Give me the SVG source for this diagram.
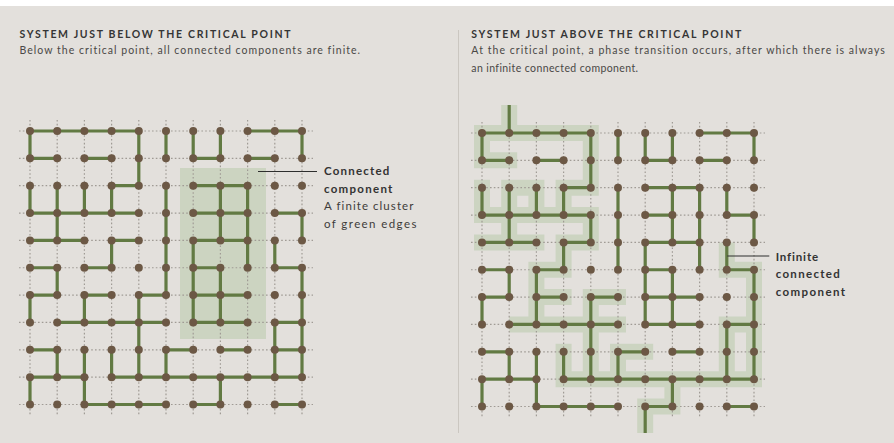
<svg xmlns="http://www.w3.org/2000/svg" xmlns:xlink="http://www.w3.org/1999/xlink" width="894" height="443" viewBox="0 0 894 443">
  <style>
    .title { font-family: Lato, "Noto Sans", "Liberation Sans", sans-serif; font-size: 10.5px; font-weight: 700; fill: #353535; letter-spacing: 1px; }
    .sub { font-family: Lato, "Noto Sans", "Liberation Sans", sans-serif; font-size: 10.5px; fill: #4a4846; letter-spacing: 0.4px; }
    .lbl { font-family: Lato, "Noto Sans", "Liberation Sans", sans-serif; font-size: 11.5px; fill: #3e3c3a; letter-spacing: 0.6px; }
    .lbl.b { font-weight: 700; fill: #333; }
    .grid { fill: none; stroke: #a09b95; stroke-width: 1.2; stroke-dasharray: 1.6 2.2; }
    .edge { fill: none; stroke: #627a43; stroke-width: 3.2; stroke-linecap: butt; }
    .halo { fill: none; stroke: #ccd4c1; stroke-width: 16; stroke-linecap: square; stroke-linejoin: miter; }
    .node { fill: #6c5845; }
    .callout { stroke: #2e2e2e; stroke-width: 1.2; }
  </style>
  <defs>
    <!-- dotted square lattice, 11 x 11 sites, spacing 27.2 x 27.35 -->
    <path id="grid" class="grid" d="M-11 0H283M-11 27.35H283M-11 54.7H283M-11 82.05H283M-11 109.4H283M-11 136.75H283M-11 164.1H283M-11 191.45H283M-11 218.8H283M-11 246.15H283M-11 273.5H283M0 -11V284.5M27.2 -11V284.5M54.4 -11V284.5M81.6 -11V284.5M108.8 -11V284.5M136 -11V284.5M163.2 -11V284.5M190.4 -11V284.5M217.6 -11V284.5M244.8 -11V284.5M272 -11V284.5"/>
    <g id="nodeRow" class="node">
      <circle cx="0" cy="0" r="4"/><circle cx="27.2" cy="0" r="4"/><circle cx="54.4" cy="0" r="4"/><circle cx="81.6" cy="0" r="4"/><circle cx="108.8" cy="0" r="4"/><circle cx="136" cy="0" r="4"/><circle cx="163.2" cy="0" r="4"/><circle cx="190.4" cy="0" r="4"/><circle cx="217.6" cy="0" r="4"/><circle cx="244.8" cy="0" r="4"/><circle cx="272" cy="0" r="4"/>
    </g>
    <g id="nodeGrid">
      <use xlink:href="#nodeRow" href="#nodeRow" y="0"/>
      <use xlink:href="#nodeRow" href="#nodeRow" y="27.35"/>
      <use xlink:href="#nodeRow" href="#nodeRow" y="54.7"/>
      <use xlink:href="#nodeRow" href="#nodeRow" y="82.05"/>
      <use xlink:href="#nodeRow" href="#nodeRow" y="109.4"/>
      <use xlink:href="#nodeRow" href="#nodeRow" y="136.75"/>
      <use xlink:href="#nodeRow" href="#nodeRow" y="164.1"/>
      <use xlink:href="#nodeRow" href="#nodeRow" y="191.45"/>
      <use xlink:href="#nodeRow" href="#nodeRow" y="218.8"/>
      <use xlink:href="#nodeRow" href="#nodeRow" y="246.15"/>
      <use xlink:href="#nodeRow" href="#nodeRow" y="273.5"/>
    </g>
  </defs>

  <!-- background -->
  <rect x="0" y="0" width="894" height="443" fill="#ffffff"/>
  <rect x="0" y="6" width="894" height="437" fill="#e3e0dc"/>
  <line x1="458.5" y1="30" x2="458.5" y2="433" stroke="#cbc7c1" stroke-width="1"/>

  <!-- left panel: below the critical point -->
  <g id="panel-below">
    <text class="title" x="19.5" y="38.3" textLength="272" lengthAdjust="spacing">SYSTEM JUST BELOW THE CRITICAL POINT</text>
    <text class="sub" x="19.5" y="54" textLength="341" lengthAdjust="spacing">Below the critical point, all connected components are finite.</text>
  </g>
  <g id="lattice-below" transform="translate(30 131)">
    <rect x="150" y="37" width="86" height="171" fill="#ccd4c1"/>
    <use xlink:href="#grid" href="#grid"/>
    <g id="edges-below">
      <path class="edge" d="M0 0H108.8M217.6 0H272
        M0 27.35h27.2M54.4 27.35h27.2M163.2 27.35h27.2M217.6 27.35h27.2
        M81.6 54.7h27.2M163.2 54.7H217.6
        M0 82.05H108.8M163.2 82.05H217.6M244.8 82.05H272
        M0 109.4H54.4M81.6 109.4h27.2M163.2 109.4H217.6
        M0 136.75h27.2M54.4 136.75h27.2M163.2 136.75h27.2M244.8 136.75h27.2
        M0 164.1h27.2M54.4 164.1h27.2M108.8 164.1h27.2M163.2 164.1H217.6
        M27.2 191.45H136M163.2 191.45H217.6M244.8 191.45H272
        M0 218.8h27.2M136 218.8h27.2M190.4 218.8h27.2M244.8 218.8h27.2
        M0 246.15H54.4M81.6 246.15H272
        M54.4 273.5H136M163.2 273.5h27.2M244.8 273.5h27.2
        M0 0v27.35M108.8 0v27.35M136 0v27.35M163.2 0v27.35M190.4 0v27.35M272 0v27.35
        M108.8 27.35v27.35
        M0 54.7v27.35M27.2 54.7v27.35M54.4 54.7v27.35M81.6 54.7v27.35M136 54.7v27.35M190.4 54.7v27.35M217.6 54.7v27.35
        M27.2 82.05v27.35M136 82.05v27.35M190.4 82.05v27.35M217.6 82.05v27.35M272 82.05v27.35
        M81.6 109.4v27.35M136 109.4v27.35M163.2 109.4v27.35M217.6 109.4v27.35M244.8 109.4v27.35
        M27.2 136.75v27.35M136 136.75v27.35M163.2 136.75v27.35M190.4 136.75v27.35M272 136.75v27.35
        M0 164.1v27.35M54.4 164.1v27.35M108.8 164.1v27.35M163.2 164.1v27.35M190.4 164.1v27.35M272 164.1v27.35
        M108.8 191.45v27.35M244.8 191.45v27.35M272 191.45v27.35
        M27.2 218.8v27.35M54.4 218.8v27.35M81.6 218.8v27.35M108.8 218.8v27.35M136 218.8v27.35M244.8 218.8v27.35M272 218.8v27.35
        M0 246.15v27.35M54.4 246.15v27.35M190.4 246.15v27.35"/>
    </g>
    <use xlink:href="#nodeGrid" href="#nodeGrid"/>
  </g>
  <g id="label-cluster">
    <line class="callout" x1="258" y1="171.5" x2="317" y2="171.5"/>
    <text class="lbl b" x="324" y="175" textLength="66" lengthAdjust="spacing">Connected</text>
    <text class="lbl b" x="324" y="192.5" textLength="69" lengthAdjust="spacing">component</text>
    <text class="lbl" x="324" y="210" textLength="90" lengthAdjust="spacing">A finite cluster</text>
    <text class="lbl" x="324" y="227.5" textLength="93" lengthAdjust="spacing">of green edges</text>
  </g>

  <!-- right panel: above the critical point -->
  <g id="panel-above">
    <text class="title" x="471.3" y="38.3" textLength="271" lengthAdjust="spacing">SYSTEM JUST ABOVE THE CRITICAL POINT</text>
    <text class="sub" x="471.3" y="54.3" textLength="414" lengthAdjust="spacing">At the critical point, a phase transition occurs, after which there is always</text>
    <text class="sub" x="471.3" y="72.3">an infinite connected component.</text>
  </g>
  <g id="lattice-above" transform="translate(482 133)">
    <path class="halo" d="M27.2 -20V0
      M0 0H108.8M0 0V27.35H27.2M108.8 0V54.7H81.6
      M0 54.7V82.05M27.2 54.7V82.05M54.4 54.7V82.05M81.6 54.7V82.05M27.2 54.7H54.4M0 82.05H108.8
      M27.2 82.05V109.4M0 109.4H54.4M108.8 82.05V109.4H81.6V136.75H54.4V191.45M54.4 164.1H81.6
      M35.2 191.45H136M108.8 164.1H136M108.8 164.1V246.15M81.6 218.8V246.15
      M163.2 218.8H136V246.15M81.6 246.15H272
      M190.4 246.15V273.5H163.2V292
      M244.8 191.45V246.15M272 136.75V246.15M244.8 191.45H272
      M244.8 117.4V136.75H272"/>
    <use xlink:href="#grid" href="#grid"/>
    <g id="edges-above">
      <path class="edge" d="M27.2 -28V0
        M0 0H108.8M217.6 0H272
        M0 27.35h27.2M54.4 27.35h27.2M163.2 27.35h27.2M217.6 27.35h27.2
        M81.6 54.7h27.2M163.2 54.7H217.6
        M0 82.05H108.8M163.2 82.05h27.2M244.8 82.05H272
        M0 109.4H54.4M81.6 109.4h27.2M163.2 109.4H217.6
        M0 136.75h27.2M54.4 136.75h27.2M163.2 136.75h27.2M244.8 136.75h27.2
        M0 164.1h27.2M54.4 164.1h27.2M108.8 164.1h27.2M163.2 164.1H217.6
        M27.2 191.45H136M163.2 191.45H217.6M244.8 191.45H272
        M0 218.8h27.2M136 218.8h27.2M190.4 218.8h27.2
        M0 246.15H54.4M81.6 246.15H272
        M54.4 273.5H136M163.2 273.5h27.2M244.8 273.5h27.2
        M0 0v27.35M108.8 0v27.35M136 0v27.35M163.2 0v27.35M190.4 0v27.35M272 0v27.35
        M108.8 27.35v27.35
        M0 54.7v27.35M27.2 54.7v27.35M54.4 54.7v27.35M81.6 54.7v27.35M136 54.7v27.35M190.4 54.7v27.35M217.6 54.7v27.35M244.8 54.7v27.35
        M27.2 82.05v27.35M108.8 82.05v27.35M136 82.05v27.35M190.4 82.05v27.35M217.6 82.05v27.35M272 82.05v27.35
        M81.6 109.4v27.35M136 109.4v27.35M163.2 109.4v27.35M217.6 109.4v27.35M244.8 109.4v27.35
        M27.2 136.75v27.35M54.4 136.75v27.35M163.2 136.75v27.35M190.4 136.75v27.35M272 136.75v27.35
        M0 164.1v27.35M54.4 164.1v27.35M108.8 164.1v27.35M163.2 164.1v27.35M190.4 164.1v27.35M272 164.1v27.35
        M108.8 191.45v27.35M244.8 191.45v27.35M272 191.45v27.35
        M27.2 218.8v27.35M54.4 218.8v27.35M81.6 218.8v27.35M108.8 218.8v27.35M136 218.8v27.35M244.8 218.8v27.35M272 218.8v27.35
        M0 246.15v27.35M54.4 246.15v27.35M190.4 246.15v27.35
        M163.2 273.5V300"/>
    </g>
    <use xlink:href="#nodeGrid" href="#nodeGrid"/>
  </g>
  <g id="label-infinite">
    <line class="callout" x1="727.3" y1="256" x2="769.3" y2="256"/>
    <text class="lbl b" x="775.7" y="260.7" textLength="43" lengthAdjust="spacing">Infinite</text>
    <text class="lbl b" x="775.7" y="278.3" textLength="64.7" lengthAdjust="spacing">connected</text>
    <text class="lbl b" x="775.7" y="295.7" textLength="70" lengthAdjust="spacing">component</text>
  </g>
</svg>
